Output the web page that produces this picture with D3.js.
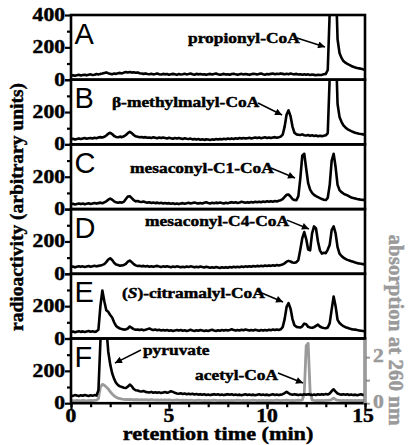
<!DOCTYPE html>
<html><head><meta charset="utf-8">
<script src="https://cdn.jsdelivr.net/npm/d3@7"></script>
<style>
html,body{margin:0;padding:0;background:#fff;}
svg{display:block;}
</style></head>
<body><svg id="c" width="409" height="445"></svg>
<script>
// ---------- DATA ----------
// retention time sampled every 0.1 min from 0 to 15 min
const sampleStep = 0.1;
const panelLetters = ["A","B","C","D","E","F"];
const xTickLabels = [0, 5, 10, 15];
const yTickLabels = [0, 200, 400];
const rightTickLabels = [0, 2];

const radioA = [
25,28,24,27,30,26,29,31,27,30,
33,29,31,35,32,36,38,42,45,40,
36,34,38,36,40,42,39,44,47,45,
48,44,46,43,45,40,38,36,39,35,
34,37,33,35,38,34,32,36,33,35,
31,34,36,33,30,35,32,34,37,33,
35,38,34,31,36,33,35,32,34,30,
33,36,32,35,38,34,31,33,36,32,
34,31,35,37,33,30,34,36,32,35,
33,30,34,37,35,32,36,38,34,31,
35,33,36,38,34,37,35,39,36,33,
37,34,38,35,33,36,32,34,31,33,
30,33,29,32,30,28,31,29,30,33,
36,60,420,760,800,650,250,165,135,115,
105,98,92,85,80,76,72,70,67,64,
62];
const radioB = [
32,35,30,34,37,33,36,39,35,38,
40,37,41,38,42,45,43,47,55,66,
72,64,52,46,44,48,45,50,58,70,
78,70,58,50,47,44,46,42,45,41,
43,40,44,41,38,42,39,43,40,37,
41,38,35,39,36,40,37,34,38,35,
33,36,31,34,30,33,29,32,28,31,
30,27,31,29,33,30,34,31,35,32,
36,33,37,34,38,35,39,36,40,37,
38,41,37,40,43,39,42,38,41,44,
40,43,39,42,45,41,44,48,60,110,
185,210,175,110,72,62,60,58,62,57,
55,58,53,56,52,55,50,53,51,54,
56,70,420,760,800,650,250,170,140,118,
105,95,88,82,77,72,69,66,64,62,
60];
const radioC = [
30,33,29,32,35,31,34,30,33,36,
32,35,38,34,37,40,36,42,48,58,
65,58,48,42,39,43,40,46,62,78,
80,68,55,48,50,46,44,47,43,40,
42,38,41,37,40,36,39,35,38,34,
37,33,36,32,35,31,34,37,33,36,
39,35,38,41,37,34,38,35,39,42,
38,35,39,36,40,37,41,38,35,39,
36,40,43,39,42,38,41,45,42,39,
43,40,44,41,45,42,46,43,47,44,
48,45,49,46,50,47,52,55,62,75,
88,90,78,62,56,55,80,190,330,342,
250,160,120,100,88,80,74,68,62,58,
56,70,150,300,342,260,150,118,105,96,
90,85,78,72,68,65,62,60,58,57,
56];
const radioD = [
42,45,40,44,47,43,46,42,45,48,
44,47,50,46,49,52,55,60,72,88,
96,85,68,58,54,50,52,55,62,75,
82,72,60,52,48,50,46,49,45,48,
44,47,43,46,49,45,42,46,43,47,
44,41,45,42,46,43,40,44,41,45,
42,46,43,40,44,41,45,42,39,43,
40,37,41,38,42,39,36,40,37,41,
38,42,39,43,40,44,41,45,42,46,
43,47,44,48,45,49,46,50,47,51,
48,52,49,53,50,54,51,55,58,65,
75,80,76,70,68,72,85,150,220,258,
215,150,145,250,293,280,200,145,125,130,
128,150,180,270,293,250,165,125,110,100,
92,86,82,78,74,70,66,64,62,60,
58];
const radioE = [
40,43,39,42,45,41,44,40,43,46,
42,45,41,44,55,200,297,230,175,165,
145,130,100,78,68,62,58,55,56,62,
74,66,58,54,56,52,55,51,54,58,
62,56,52,55,51,54,50,53,49,52,
48,51,47,50,53,49,52,48,51,47,
50,54,50,47,51,48,52,49,46,50,
47,51,54,50,47,51,48,52,49,53,
50,53,57,52,49,53,50,54,51,55,
52,49,53,50,54,51,48,52,49,53,
50,54,51,55,52,56,53,57,70,120,
195,219,185,120,82,72,70,68,75,92,
88,72,68,66,70,78,86,74,68,65,
63,68,95,180,260,200,115,96,85,76,
70,66,62,58,56,55,52,50,48,46,
45];
const radioF = [
48,45,50,47,44,49,46,51,48,45,
49,46,50,47,80,380,620,640,470,320,
240,185,150,125,112,104,100,96,94,102,
115,105,88,80,78,74,72,75,70,68,
66,70,65,68,64,67,63,66,69,65,
68,74,70,64,60,58,61,57,60,56,
59,55,58,54,57,53,56,52,55,51,
54,50,53,56,52,55,51,54,50,53,
56,52,55,51,54,50,53,49,52,55,
51,54,50,53,49,52,55,51,54,50,
53,49,52,55,51,54,50,53,56,62,
70,62,55,52,56,53,50,54,51,55,
52,56,53,50,54,51,55,52,56,53,
57,54,60,75,86,72,60,56,53,55,
52,55,51,54,50,53,49,52,55,51,
53];
const absorbF = [
0.10,0.11,0.10,0.12,0.11,0.10,0.12,0.11,0.10,0.11,
0.12,0.11,0.12,0.13,0.20,0.70,0.82,0.78,0.70,0.62,
0.50,0.40,0.32,0.26,0.22,0.20,0.18,0.17,0.16,0.16,
0.17,0.16,0.15,0.16,0.15,0.14,0.15,0.14,0.15,0.14,
0.14,0.15,0.14,0.13,0.14,0.13,0.14,0.13,0.14,0.13,
0.14,0.13,0.12,0.13,0.14,0.13,0.12,0.13,0.12,0.13,
0.12,0.13,0.12,0.11,0.12,0.13,0.12,0.11,0.12,0.11,
0.12,0.11,0.12,0.13,0.12,0.11,0.12,0.11,0.12,0.11,
0.12,0.11,0.12,0.11,0.12,0.13,0.12,0.11,0.12,0.11,
0.12,0.11,0.12,0.13,0.12,0.11,0.12,0.11,0.12,0.11,
0.12,0.11,0.12,0.11,0.12,0.13,0.12,0.11,0.12,0.12,
0.13,0.12,0.11,0.12,0.11,0.12,0.13,0.12,0.14,0.40,
2.50,2.60,0.50,0.14,0.12,0.11,0.12,0.11,0.12,0.11,
0.12,0.12,0.13,0.16,0.22,0.16,0.13,0.12,0.11,0.12,
0.11,0.12,0.11,0.12,0.11,0.12,0.11,0.12,0.11,0.12,
0.11];
const radioSeries = [radioA, radioB, radioC, radioD, radioE, radioF];

// annotation labels (text, data-anchor coordinates: t, value)
const annotationText = ["propionyl-CoA","β-methylmalyl-CoA","mesaconyl-C1-CoA","mesaconyl-C4-CoA","(S)-citramalyl-CoA","pyruvate","acetyl-CoA"];
const annotationPanel = [0,1,2,3,4,5,5];
const annotationAt = [[5.97,227],[2.09,231],[3.01,223],[3.78,295],[2.6,250],[3.67,298],[6.33,143]];
const arrowFrom = [[11.53,258],[9.54,256],[10.2,254],[11.02,332],[9.49,294],[3.57,329],[10.56,187]];
const arrowTo   = [[12.96,202],[10.77,182],[11.43,192],[12.14,277],[10.82,226],[2.24,248],[11.84,125]];

// ---------- LAYOUT ----------
const svg = d3.select("#c");
const left = 71, right = 365, top0 = 15, panelH = 64.7;
const serif = "'Liberation Serif','Times New Roman',serif";
const sans = "'Liberation Sans',Arial,sans-serif";
const grey = "#9a9a9a";
const SX = 1.2;

const x = d3.scaleLinear().domain([0, 15]).range([left, right]);
const times = radioA.map((_, i) => +(i * sampleStep).toFixed(1));

const defs = svg.append("defs");
defs.append("marker").attr("id","ah").attr("viewBox","0 0 10 10")
  .attr("refX",10).attr("refY",5).attr("markerWidth",9).attr("markerHeight",7)
  .attr("markerUnits","userSpaceOnUse").attr("orient","auto")
  .append("path").attr("d","M0,0L10,5L0,10Z").attr("fill","#000");

function boldText(sel, color) {
  return sel.attr("font-family",serif).attr("font-weight","bold")
    .attr("fill",color).attr("stroke",color).attr("stroke-width",0.45);
}

const yScales = [];
panelLetters.forEach((L, i) => {
  const pt = top0 + i * panelH, pb = pt + panelH;
  const y = d3.scaleLinear().domain([0, 400]).range([pb, pt]);
  yScales.push(y);
  defs.append("clipPath").attr("id","clip"+i).append("rect")
    .attr("x", left).attr("y", pt).attr("width", right-left).attr("height", panelH);
  const g = svg.append("g");

  if (i === 5) {
    const yR = d3.scaleLinear().domain([0, 2.81]).range([pb, pt]);
    g.append("path").datum(absorbF).attr("clip-path","url(#clip5)")
      .attr("fill","none").attr("stroke",grey).attr("stroke-width",2.8).attr("stroke-linejoin","round")
      .attr("d", d3.line().x((d,k)=>x(times[k])).y(d=>yR(d)));
    // right axis
    const ra = svg.append("g").attr("transform",`translate(${right},0)`);
    ra.call(d3.axisRight(yR).tickValues([0,1,2]).tickSize(5).tickFormat(""));
    ra.select(".domain").remove();
    ra.selectAll("line").attr("stroke",grey).attr("stroke-width",2);
    rightTickLabels.forEach(v => {
      boldText(ra.append("text").attr("transform",`translate(8,${yR(v)+5}) scale(${SX},1)`)
        .attr("font-size",18), grey).text(v);
    });
  }

  g.append("path").datum(radioSeries[i]).attr("clip-path",`url(#clip${i})`)
    .attr("fill","none").attr("stroke","#000").attr("stroke-width",2.6).attr("stroke-linejoin","round")
    .attr("d", d3.line().x((d,k)=>x(times[k])).y(d=>y(d)));

  // frame
  svg.append("rect").attr("x",left).attr("y",pt).attr("width",right-left).attr("height",panelH)
    .attr("fill","none").attr("stroke","#000").attr("stroke-width",2.6);
  if (i === 5) {
    svg.append("line").attr("x1",right).attr("x2",right).attr("y1",pt+1.3).attr("y2",pb+1.3)
      .attr("stroke",grey).attr("stroke-width",2.8);
  }

  // left axis ticks
  const la = svg.append("g").attr("transform",`translate(${left},0)`);
  la.call(d3.axisLeft(y).tickValues([0,200,400]).tickSize(6).tickFormat(""));
  la.select(".domain").remove();
  la.selectAll("line").attr("stroke","#000").attr("stroke-width",2.2);
  const lm = svg.append("g").attr("transform",`translate(${left},0)`);
  lm.call(d3.axisLeft(y).tickValues([100,300]).tickSize(4).tickFormat(""));
  lm.select(".domain").remove();
  lm.selectAll("line").attr("stroke","#000").attr("stroke-width",2.2);

  yTickLabels.filter(v => v < 400 || i === 0).forEach(v => {
    boldText(svg.append("text").attr("transform",`translate(${left-6},${y(v)+6}) scale(${SX},1)`)
      .attr("text-anchor","end").attr("font-size",18), "#000").text(v);
  });

  // panel letter
  svg.append("text").attr("x", left+3.5).attr("y", pt+28.5)
    .attr("font-family",sans).attr("font-size",29).attr("fill","#000").text(L);
});

// x axis
const bottom = top0 + 6*panelH;
const xa = svg.append("g").attr("transform",`translate(0,${bottom})`);
xa.call(d3.axisBottom(x).tickValues(d3.range(0,16)).tickSize(4).tickFormat(""));
xa.select(".domain").remove();
xa.selectAll("line").attr("stroke","#000").attr("stroke-width",2.2);
const xb = svg.append("g").attr("transform",`translate(0,${bottom})`);
xb.call(d3.axisBottom(x).tickValues(xTickLabels).tickSize(6).tickFormat(""));
xb.select(".domain").remove();
xb.selectAll("line").attr("stroke","#000").attr("stroke-width",2.2);
xTickLabels.forEach(v => {
  boldText(svg.append("text").attr("transform",`translate(${x(v)-(v===15?2:0)},${bottom+19}) scale(${SX},1)`)
    .attr("text-anchor","middle").attr("font-size",18), "#000").text(v);
});

// axis titles
boldText(svg.append("text").attr("transform",`translate(218,${bottom+37}) scale(${SX},1)`)
  .attr("text-anchor","middle").attr("font-size",18.5), "#000").text("retention time (min)");
boldText(svg.append("text").attr("transform",`translate(23,207) rotate(-90)`)
  .attr("text-anchor","middle").attr("font-size",19.5), "#000").text("radioactivity (arbitrary units)");
boldText(svg.append("text").attr("transform",`translate(389,330) rotate(90)`)
  .attr("text-anchor","middle").attr("font-size",21), grey).text("absorption at 260 nm");

// annotations
annotationText.forEach((t, k) => {
  const y = yScales[annotationPanel[k]];
  const tx = boldText(svg.append("text")
    .attr("transform",`translate(${x(annotationAt[k][0])},${y(annotationAt[k][1])}) scale(${SX},1)`)
    .attr("font-size",14.5), "#000");
  if (t.startsWith("(S)")) {
    tx.append("tspan").text("(");
    tx.append("tspan").attr("font-style","italic").text("S");
    tx.append("tspan").text(")" + t.slice(3));
  } else tx.text(t);
  svg.append("line")
    .attr("x1", x(arrowFrom[k][0])).attr("y1", y(arrowFrom[k][1]))
    .attr("x2", x(arrowTo[k][0])).attr("y2", y(arrowTo[k][1]))
    .attr("stroke","#000").attr("stroke-width",1.5).attr("marker-end","url(#ah)");
});
</script></body></html>
